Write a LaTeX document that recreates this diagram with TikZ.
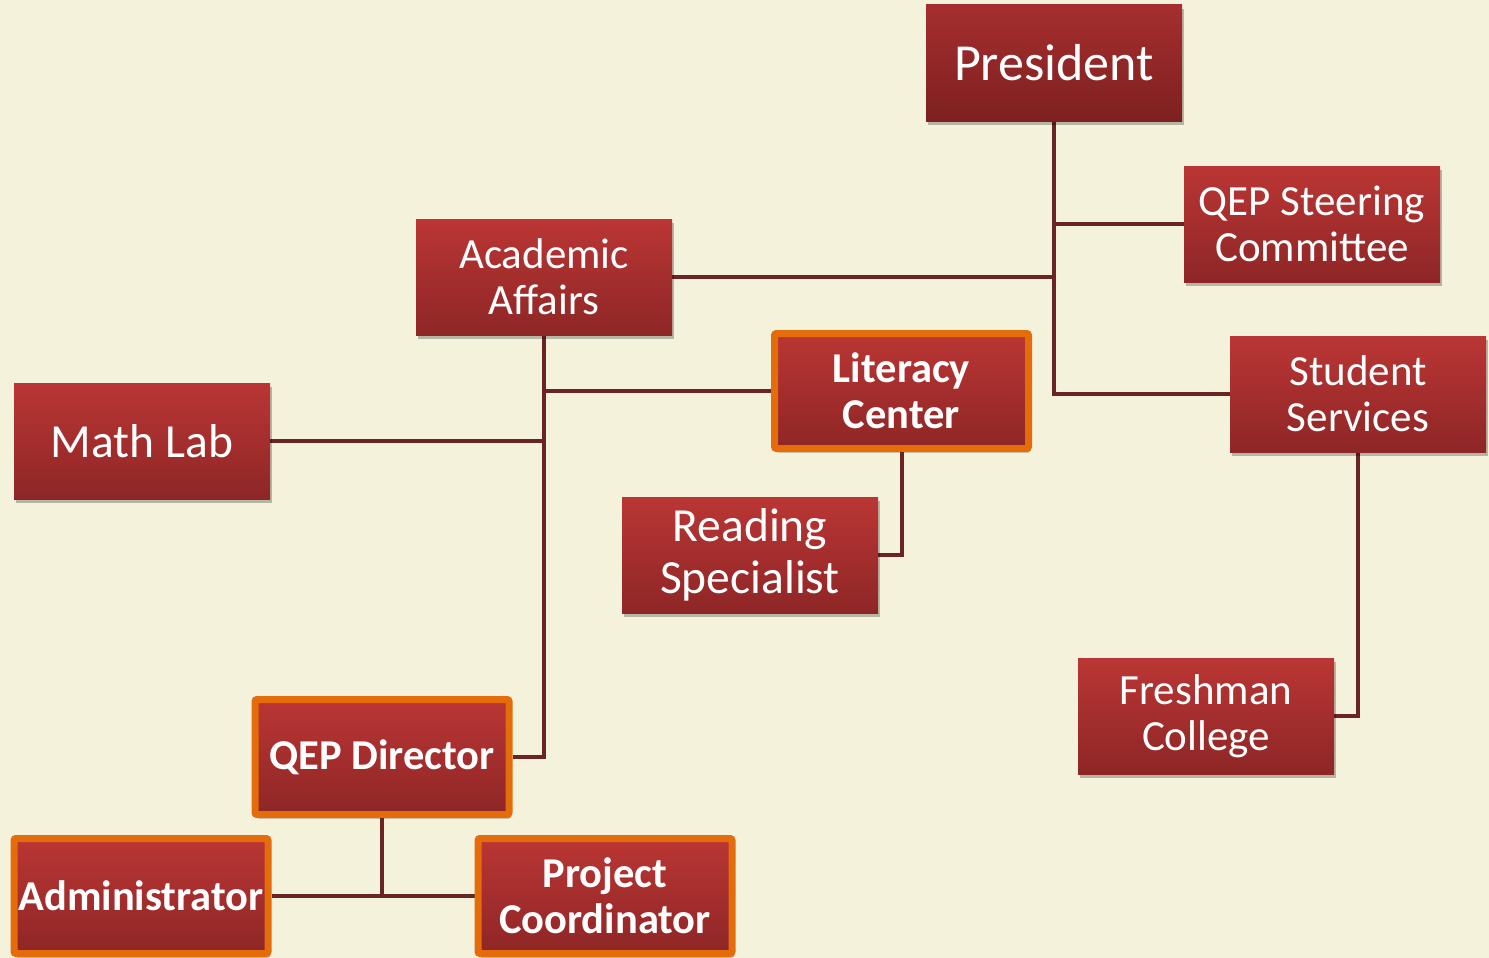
\documentclass[tikz,border=0pt]{standalone}
\usepackage{fontspec}
\setmainfont{Carlito}
\usetikzlibrary{shadows,backgrounds}
\definecolor{bg}{HTML}{F5F2DC}
\definecolor{boxtop}{HTML}{BA3634}
\definecolor{boxbot}{HTML}{8E2626}
\definecolor{prestop}{HTML}{A62E2E}
\definecolor{presbot}{HTML}{7E2020}
\definecolor{bord}{HTML}{E46C0A}
\definecolor{link}{HTML}{6A2424}
\tikzset{
  x=1pt,y=-1pt,
  box/.style={rectangle, minimum width=256pt, minimum height=116pt, inner sep=0pt,
    top color=boxtop, bottom color=boxbot, text=white, align=center,
    font=\fontsize{43}{46}\selectfont,
    drop shadow={shadow xshift=2pt, shadow yshift=-4pt, opacity=0.25, fill=black}},
  obox/.style={box, minimum width=254pt, minimum height=115pt, draw=bord, line width=7pt,
    rounded corners=2pt, font=\fontsize{42.5}{46}\selectfont\bfseries},
  conn/.style={draw=link, line width=4pt},
}
\begin{document}
\begin{tikzpicture}
\useasboundingbox (0,0) rectangle (1489,958);
\node[box, top color=prestop, bottom color=presbot, font=\fontsize{52}{58}\selectfont] (pres) at (1054,63) {President};
\node[box] (qep) at (1312,224) {QEP Steering\\Committee};
\node[box] (aa) at (544,277) {Academic\\Affairs};
\node[obox] (lit) at (901.5,391) {Literacy\\Center};
\node[box] (stud) at (1358,394) {Student\\Services};
\node[box, font=\fontsize{47.5}{52}\selectfont] (math) at (142,441) {Math Lab};
\node[box, font=\fontsize{47.5}{52}\selectfont] (read) at (750,555) {Reading\\Specialist};
\node[box] (fresh) at (1206,716) {Freshman\\College};
\node[obox] (qd) at (382,757) {QEP Director};
\node[obox] (admin) at (141,896) {Administrator};
\node[obox] (pc) at (605,896) {Project\\Coordinator};
\begin{scope}[on background layer]
\fill[bg] (0,0) rectangle (1489,958);
\draw[conn] (pres.south) |- (stud.west);
\draw[conn] (pres.south |- qep.west) -- (qep.west);
\draw[conn] (pres.south |- aa.east) -- (aa.east);
\draw[conn] (aa.south) |- (qd.east);
\draw[conn] (aa.south |- lit.west) -- (lit.west);
\draw[conn] (aa.south |- math.east) -- (math.east);
\draw[conn] (lit.south) |- (read.east);
\draw[conn] (stud.south) |- (fresh.east);
\draw[conn] (qd.south) -- (qd.south |- admin.east);
\draw[conn] (admin.east) -- (pc.west);
\end{scope}
\end{tikzpicture}
\end{document}
